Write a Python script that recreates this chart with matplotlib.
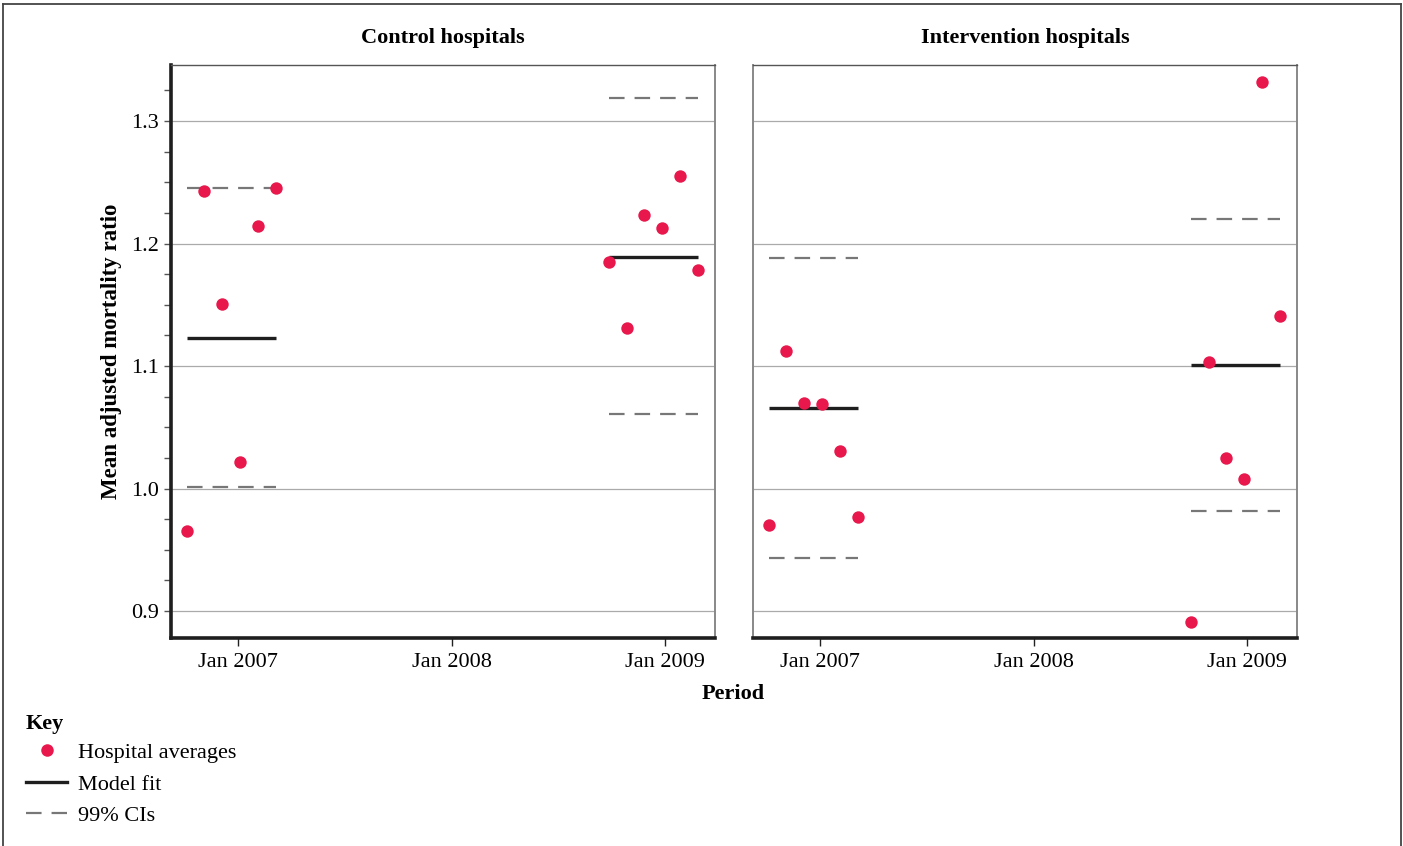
import numpy as np
import matplotlib
matplotlib.use('Agg')
import matplotlib.pyplot as plt
from matplotlib.lines import Line2D
from matplotlib.ticker import MultipleLocator

plt.rcParams['font.family'] = ['Liberation Serif', 'DejaVu Serif']

# Data (decimal years; months offset around each January)
month_offsets = [-3, -2, -1, 0, 1, 2]
years = [2007, 2009]
year_shift = [0.1, -0.15]  # small shift in months per period
panel_titles = ['Control hospitals', 'Intervention hospitals']

# hospital averages per panel, per period
control_2007 = [0.965, 1.243, 1.151, 1.022, 1.214, 1.245]
control_2009 = [1.185, 1.131, 1.223, 1.213, 1.255, 1.178]
interv_2007 = [0.970, 1.112, 1.070, 1.069, 1.031, 0.977]
interv_2009 = [0.891, 1.103, 1.025, 1.008, 1.332, 1.141]

# model fit and 99% CIs (per period)
control_fit = [1.123, 1.189]
control_lo = [1.001, 1.061]
control_hi = [1.245, 1.319]
interv_fit = [1.066, 1.101]
interv_lo = [0.943, 0.982]
interv_hi = [1.188, 1.220]

tick_years = [2007, 2008, 2009]
tick_labels = ['Jan 2007', 'Jan 2008', 'Jan 2009']

red = '#e8174c'
dash_grey = '#777777'

fig = plt.figure(figsize=(14.03, 8.46), dpi=100)
ax1 = fig.add_axes([171 / 1403, 1 - 638 / 846, 544 / 1403, 573 / 846])
ax2 = fig.add_axes([753 / 1403, 1 - 638 / 846, 544 / 1403, 573 / 846], sharey=ax1)

panels = [
    (ax1, [control_2007, control_2009], control_fit, control_lo, control_hi),
    (ax2, [interv_2007, interv_2009], interv_fit, interv_lo, interv_hi),
]

for i, (ax, pts, fit, lo, hi) in enumerate(panels):
    ax.set_axisbelow(True)
    ax.grid(axis='y', color='#aaaaaa', lw=0.9)
    for j, yr in enumerate(years):
        xs = [yr + (m + year_shift[j]) / 12 for m in month_offsets]
        x0, x1 = xs[0], xs[-1]
        ax.plot([x0, x1], [hi[j], hi[j]], color=dash_grey, lw=1.6, dashes=(7, 4.5))
        ax.plot([x0, x1], [lo[j], lo[j]], color=dash_grey, lw=1.6, dashes=(7, 4.5))
        ax.plot([x0, x1], [fit[j], fit[j]], color='#1e1e1e', lw=2.4, solid_capstyle='butt')
        ax.scatter(xs, pts[j], s=80, color=red, zorder=5, linewidths=0)
    ax.set_xlim(2006.685, 2009.235)
    ax.set_ylim(0.878, 1.3457)
    ax.set_xticks(tick_years)
    ax.set_xticklabels(tick_labels, fontsize=16)
    ax.tick_params(axis='x', length=6, width=1, color='#222222', pad=5)
    ax.set_title(panel_titles[i], fontsize=16, fontweight='bold', pad=16)
    ax.spines['top'].set_color('#555555')
    ax.spines['top'].set_linewidth(1.0)
    ax.spines['right'].set_color('#888888')
    ax.spines['right'].set_linewidth(1.4)
    ax.spines['bottom'].set_color('#1e1e1e')
    ax.spines['bottom'].set_linewidth(2.6)

ax1.spines['left'].set_color('#1e1e1e')
ax1.spines['left'].set_linewidth(2.6)
ax1.yaxis.set_major_locator(MultipleLocator(0.1))
ax1.yaxis.set_minor_locator(MultipleLocator(0.025))
ax1.set_yticks([0.9, 1.0, 1.1, 1.2, 1.3])
ax1.set_yticklabels(['0.9', '1.0', '1.1', '1.2', '1.3'], fontsize=16)
ax1.tick_params(axis='y', which='both', length=5, width=1, color='#555555', pad=4)
ax1.set_ylabel('Mean adjusted mortality ratio', fontsize=16.5, fontweight='bold', labelpad=6)

ax2.spines['left'].set_color('#888888')
ax2.spines['left'].set_linewidth(1.4)
ax2.tick_params(axis='y', which='both', left=False, labelleft=False)

fig.text(733 / 1403, 1 - 694 / 846, 'Period', ha='center', va='center',
         fontsize=16, fontweight='bold')

# key
handles = [
    Line2D([], [], marker='o', color=red, ls='none', markersize=9, markeredgewidth=0),
    Line2D([], [], color='#1e1e1e', lw=2.4),
    Line2D([], [], color=dash_grey, lw=1.6, dashes=(7, 4.5)),
]
labels = ['Hospital averages', 'Model fit', '99% CIs']
leg = fig.legend(handles, labels, loc='upper left', bbox_to_anchor=(26 / 1403, 1 - 714 / 846),
                 frameon=False, fontsize=16, title='Key', alignment='left',
                 title_fontproperties={'weight': 'bold', 'size': 16},
                 handlelength=1.85, handletextpad=0.5, labelspacing=0.5, borderaxespad=0,
                 borderpad=0)
leg._legend_box.sep = 6

# outer frame
W, H = 1403, 846
for xs_, ys_ in [([3, 3], [0, H - 4]), ([3, W - 2], [H - 4, H - 4]), ([W - 2, W - 2], [0, H - 4])]:
    fig.add_artist(Line2D([x / W for x in xs_], [y / H for y in ys_], color='#444444', lw=1.3))

fig.savefig('out.png', dpi=100)
